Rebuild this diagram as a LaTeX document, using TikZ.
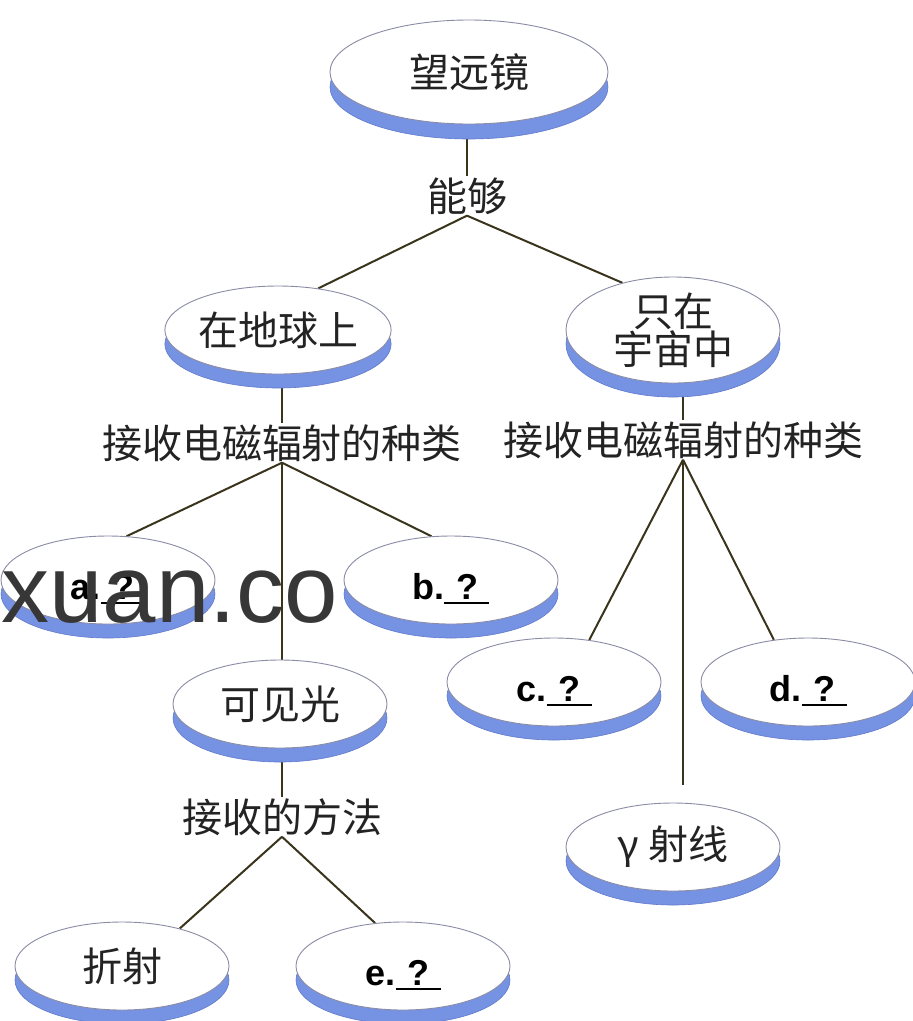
\documentclass[tikz,border=0pt]{standalone}
\usepackage{fontspec}
\setmainfont{Liberation Sans}
\newfontfamily\cjk{Noto Sans CJK SC}
\usetikzlibrary{shapes.geometric,shadows,backgrounds}
\definecolor{rim}{RGB}{118,146,226}
\definecolor{rimedge}{RGB}{96,122,205}
\definecolor{outl}{RGB}{138,140,165}
\definecolor{conn}{RGB}{58,52,28}
\definecolor{txt}{RGB}{35,35,35}
\definecolor{wm}{RGB}{55,55,55}
\newcommand\qblank{\rlap{\smash{\rule[-5pt]{1.25em}{1.6pt}}}\makebox[1.25em]{?}}
\begin{document}
\begin{tikzpicture}[x=1pt,y=-1pt,
  discbase/.style={ellipse, draw=outl, line width=0.9pt, fill=white, inner sep=0pt,
    font=\cjk\fontsize{40}{44}\selectfont, text=txt},
  disc/.style={discbase, minimum width=214pt, minimum height=88pt,
    general shadow={fill=rim, draw=rimedge, line width=0.6pt, shadow yshift=-14pt}},
  bigdisc/.style={discbase, minimum width=278pt, minimum height=104pt,
    general shadow={fill=rim, draw=rimedge, line width=0.6pt, shadow yshift=-15pt}},
  letter/.style={disc, font=\bfseries\fontsize{36}{40}\selectfont, text=black,
    text height=38pt, text depth=0pt},
  lbl/.style={inner sep=1pt, font=\cjk\fontsize{40}{44}\selectfont, text=txt},
  conn/.style={draw=conn, line width=2pt}
]
\useasboundingbox (0,0) rectangle (913,1021);

% nodes
\node[bigdisc] (top) at (469,72) {望远镜};
\node[lbl] (ng) at (467,196) {能够};
\node[disc] (earth) at (278,330) {在地球上};
\node[disc, align=center, font=\cjk\fontsize{40}{37}\selectfont] (space) at (673,330) {只在\\宇宙中};
\node[lbl] (ltxt) at (282,443) {接收电磁辐射的种类};
\node[lbl] (rtxt) at (683,440) {接收电磁辐射的种类};
\node[letter] (a) at (108,580) {a.\qblank};
\node[letter] (b) at (451,580) {b.\qblank};
\node[disc] (vis) at (280,704) {可见光};
\node[lbl] (meth) at (282,817) {接收的方法};
\node[letter] (c) at (554,682) {c.\qblank};
\node[letter] (d) at (808,682) {d.\qblank};
\node[disc] (gam) at (673,847) {γ 射线};
\node[disc] (zhe) at (122,966) {折射};
\node[letter] (e) at (403,966) {e.\qblank};
\coordinate (gend) at (0,785);

% connectors
\begin{scope}[on background layer]
\fill[white] (0,0) rectangle (913,1021);
\draw[conn] (ng.north |- top.south) -- (ng.north);
\draw[conn] (ng.south) -- (earth.46);
\draw[conn] (ng.south) -- (space.137);
\draw[conn] (ltxt.north |- earth.south) -- (ltxt.north);
\draw[conn] (rtxt.north |- space.south) -- (rtxt.north);
\draw[conn] (ltxt.south) -- (a.67);
\draw[conn] (ltxt.south) -- (b.114);
\draw[conn] (ltxt.south) -- (ltxt.south |- vis.north);
\draw[conn] (meth.north |- vis.south) -- (meth.north);
\draw[conn] (meth.south) -- (zhe.33);
\draw[conn] (meth.south) -- (e.123);
\draw[conn] (rtxt.south) -- (c.50);
\draw[conn] (rtxt.south) -- (d.129);
\draw[conn] (rtxt.south) -- (rtxt.south |- gend);
\end{scope}

% watermark
\node[anchor=base east, inner sep=0pt, font=\fontsize{96}{98}\selectfont, text=wm] (wmk) at (338,622) {xuan.co};
\end{tikzpicture}
\end{document}
